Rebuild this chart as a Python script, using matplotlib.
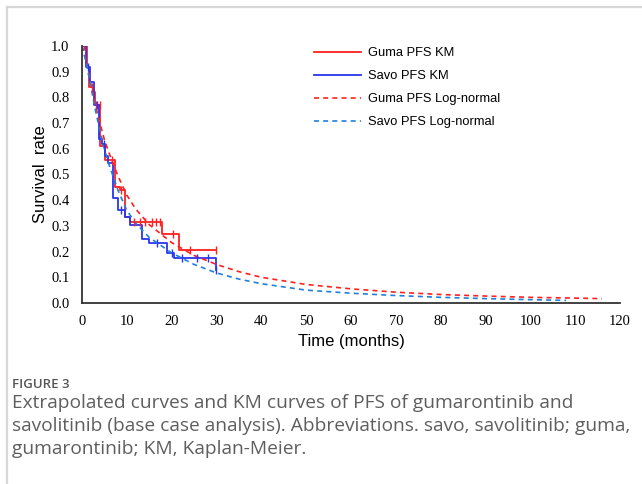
import matplotlib
matplotlib.use("Agg")
import matplotlib.pyplot as plt
from matplotlib.lines import Line2D

# KM step data (time in months, survival)
guma_km_t = [0, 1.1, 1.6, 2.5, 2.8, 4.1, 5.2, 7.3, 8.4, 9.5, 10.8, 17.9, 21.6, 30]
guma_km_s = [1.0, 0.92, 0.84, 0.82, 0.77, 0.61, 0.555, 0.45, 0.44, 0.335, 0.315, 0.27, 0.205, 0.205]
guma_cens_t = [0.5, 2.2, 3.2, 4.0, 6.8, 8.6, 11.5, 13.0, 14.0, 15.6, 16.6, 17.4, 20.2, 24.0, 30.0]

savo_km_t = [0, 0.9, 1.8, 2.6, 3.9, 4.5, 5.2, 5.8, 6.9, 8.0, 9.5, 10.6, 13.4, 14.9, 19.0, 20.5, 30]
savo_km_s = [1.0, 0.92, 0.86, 0.77, 0.64, 0.62, 0.57, 0.545, 0.41, 0.36, 0.335, 0.305, 0.25, 0.235, 0.195, 0.175, 0.13]
savo_cens_t = [1.4, 3.4, 5.0, 8.8, 16.8, 20.0, 22.4, 25.6, 28.0, 30.0]

# Log-normal extrapolations
guma_ln_t = [0, 1, 2, 3, 4, 5, 6, 8, 10, 12, 15, 20, 25, 30, 35, 40, 50, 60, 70, 80, 90, 100, 110, 116]
guma_ln_s = [1.0, 0.94, 0.85, 0.77, 0.70, 0.635, 0.585, 0.495, 0.42, 0.365, 0.305, 0.235, 0.185, 0.15,
             0.122, 0.10, 0.072, 0.055, 0.042, 0.033, 0.027, 0.022, 0.019, 0.017]
savo_ln_t = [0, 1, 2, 3, 4, 5, 6, 8, 10, 12, 15, 20, 25, 30, 35, 40, 50, 60, 70, 80, 90, 100, 108]
savo_ln_s = [1.0, 0.93, 0.84, 0.75, 0.67, 0.60, 0.54, 0.44, 0.36, 0.31, 0.255, 0.195, 0.15, 0.117,
             0.093, 0.075, 0.05, 0.038, 0.029, 0.022, 0.017, 0.013, 0.010]

x_ticks = list(range(0, 121, 10))
y_ticks = [0.0, 0.1, 0.2, 0.3, 0.4, 0.5, 0.6, 0.7, 0.8, 0.9, 1.0]

red = "#ff2020"
blue_km = "#2a35f0"
blue_ln = "#1f7fdc"


def km_at(ts, ss, t):
    val = ss[0]
    for ti, si in zip(ts, ss):
        if ti <= t:
            val = si
    return val


fig = plt.figure(figsize=(6.42, 4.84), dpi=100)
ax = fig.add_axes([0.1277, 0.374, 0.8380, 0.531])

ax.step(guma_km_t, guma_km_s, where="post", color=red, linewidth=1.3, label="Guma PFS KM")
ax.step(savo_km_t, savo_km_s, where="post", color=blue_km, linewidth=1.3, label="Savo PFS KM")
ax.plot(guma_ln_t, guma_ln_s, color=red, linewidth=1.2, linestyle=(0, (3, 2.5)), label="Guma PFS Log-normal")
ax.plot(savo_ln_t, savo_ln_s, color=blue_ln, linewidth=1.2, linestyle=(0, (3, 2.5)), label="Savo PFS Log-normal")

ax.plot(guma_cens_t, [km_at(guma_km_t, guma_km_s, t) for t in guma_cens_t], linestyle="none",
        marker="|", markersize=6, color=red, markeredgewidth=1.0)
ax.plot(savo_cens_t, [km_at(savo_km_t, savo_km_s, t) for t in savo_cens_t], linestyle="none",
        marker="|", markersize=6, color=blue_km, markeredgewidth=1.0)

ax.set_xlim(0, 120)
ax.set_ylim(0, 1.0)
ax.set_xticks(x_ticks)
ax.set_yticks(y_ticks)
ax.set_xticklabels([str(v) for v in x_ticks], family="Liberation Serif", fontsize=10.5)
ax.set_yticklabels([f"{v:.1f}" for v in y_ticks], family="Liberation Serif", fontsize=10.5)
ax.tick_params(length=0, pad=9)
for side in ["top", "right"]:
    ax.spines[side].set_visible(False)
for side in ["left", "bottom"]:
    ax.spines[side].set_color("#333333")
    ax.spines[side].set_linewidth(1.3)

ax.set_xlabel("Time (months)", family="Liberation Sans", fontsize=12, labelpad=4)
ax.set_ylabel("Survival  rate", family="Liberation Sans", fontsize=12, labelpad=2)

leg = ax.legend(loc="upper left", bbox_to_anchor=(0.41, 1.04), frameon=False, handlelength=3.6,
                labelspacing=0.85, handletextpad=0.6, prop={"family": "Liberation Sans", "size": 9.3})

# card frame (top and left edge)
fig.add_artist(Line2D([0.011, 1.0], [0.985, 0.985], color="#d6d6d6", linewidth=1.6))
fig.add_artist(Line2D([0.011, 0.011], [0.0, 0.985], color="#d6d6d6", linewidth=1.6))

fig.text(0.019, 0.205, "FIGURE 3", family="Open Sans", fontsize=9.5, color="#555555",
         va="center", weight="semibold")
caption = ("Extrapolated curves and KM curves of PFS of gumarontinib and\n"
           "savolitinib (base case analysis). Abbreviations. savo, savolitinib; guma,\n"
           "gumarontinib; KM, Kaplan-Meier.")
fig.text(0.019, 0.186, caption, family="Open Sans", fontsize=13.8, color="#5e5e5e", va="top",
         linespacing=1.37)

fig.savefig("out.png", dpi=100)
